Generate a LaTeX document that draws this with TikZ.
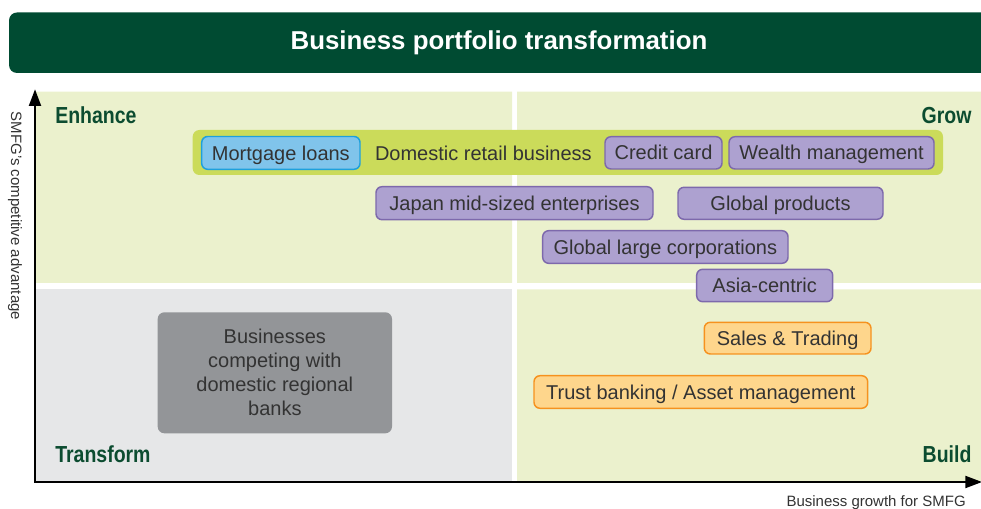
\documentclass[tikz,border=0pt]{standalone}
\usepackage{fontspec}
\setmainfont{Liberation Sans}
\newfontfamily\condfont{Liberation Sans}[FakeStretch=0.84]
\usepackage{xcolor}
\usepackage{tikz}
\usetikzlibrary{arrows.meta,positioning}

\definecolor{bannergreen}{RGB}{0,75,50}
\definecolor{labelgreen}{RGB}{12,76,48}
\definecolor{quadgreen}{RGB}{235,241,205}
\definecolor{quadgray}{RGB}{230,231,232}
\definecolor{bandgreen}{RGB}{203,219,90}
\definecolor{bluefill}{RGB}{128,196,235}
\definecolor{blueline}{RGB}{30,160,220}
\definecolor{purplefill}{RGB}{173,161,208}
\definecolor{purpleline}{RGB}{125,105,172}
\definecolor{orangefill}{RGB}{254,214,140}
\definecolor{orangeline}{RGB}{246,146,30}
\definecolor{grayfill}{RGB}{147,149,152}
\definecolor{boxtext}{RGB}{51,51,51}

\tikzset{
  quadlabel/.style={font=\condfont\bfseries\fontsize{17.4}{20}\selectfont,text=labelgreen,inner sep=0pt},
  axislabel/.style={font=\fontsize{11.25}{13}\selectfont,text=boxtext,inner sep=0pt},
  unittext/.style={font=\fontsize{15}{18}\selectfont,text=boxtext,inner sep=0pt,
    text height=10.7pt,text depth=0pt},
  span/.style 2 args={minimum width=(#1)*0.75pt,minimum height=(#2)*0.75pt},
  unitbox/.style={unittext,draw,rounded corners=4.5pt,line width=1.1pt},
  purplebox/.style={unitbox,fill=purplefill,draw=purpleline},
  orangebox/.style={unitbox,fill=orangefill,draw=orangeline},
  bluebox/.style={unitbox,fill=bluefill,draw=blueline},
  band/.style={fill=bandgreen,rounded corners=5pt,inner sep=0pt},
  graybox/.style={fill=grayfill,rounded corners=5pt,inner sep=0pt,text=boxtext,
    font=\fontsize{15}{18}\selectfont,align=center}
}

\begin{document}
\begin{tikzpicture}[x=0.75pt,y=-0.75pt]
  \useasboundingbox (0,0) rectangle (981,509);
  \clip (0,0) rectangle (981,509);

  \fill[bannergreen,rounded corners=6pt] (9,12.5) rectangle (1000,73);
  \node[font=\bfseries\fontsize{19.4}{23}\selectfont,text=white,anchor=base,inner sep=0pt]
    (title) at (499,50) {Business portfolio transformation};

  \fill[quadgreen] (36,91.7) rectangle (512,283) (517,91.7) rectangle (982,283)
    (517,289.3) rectangle (982,481);
  \fill[quadgray] (36,289.3) rectangle (512,481);

  \coordinate (ytop) at (35,89.3);
  \coordinate (origin) at (35,482);
  \coordinate (xend) at (982,482);
  \draw[line width=1.5pt,{Triangle[length=12.5pt,width=9pt]}-{Triangle[length=12.5pt,width=9pt]}]
    (ytop) -- (origin) -- (xend);

  \node[axislabel,rotate=-90] (ylab) at (15,216) {SMFG's competitive advantage};
  \node[axislabel,anchor=base east] (xlab) at (966,506.5) {Business growth for SMFG};

  \node[quadlabel,anchor=base west] (enhance) at (55,123.3) {Enhance};
  \node[quadlabel,anchor=base east] (grow) at (971.7,123.3) {Grow};
  \node[quadlabel,anchor=base west] (transform) at (55,462.7) {Transform};
  \node[quadlabel,anchor=base east] (build) at (971.7,462.7) {Build};

  \node[band,span={750.3}{45}] (retail) at (567.85,152.5) {};
  \node[bluebox,span={158.3}{32.8}] (mort) at (280.85,152.9) {Mortgage loans};
  \node[unittext,right=10.5pt of mort] (drb) {Domestic retail business};

  \foreach \n/\xa/\ya/\xb/\yb/\t in {
      ccard/605/136.7/722/169/Credit card,
      wealth/729/136.7/934/169/Wealth management,
      japan/376/186.7/653/219.7/Japan mid-sized enterprises,
      gprod/678/187.3/883/219.3/Global products,
      glarge/542.7/230.7/788/263.3/Global large corporations,
      asia/696.7/269.3/832.7/301.7/Asia-centric}
    \node[purplebox,span={\xb-\xa}{\yb-\ya}] (\n) at ({(\xa+\xb)/2},{(\ya+\yb)/2}) {\t};

  \foreach \n/\xa/\ya/\xb/\yb/\t in {
      sales/704.3/322.3/871/354/Sales \& Trading,
      trust/534/375.7/867.7/408.3/{Trust banking / Asset management}}
    \node[orangebox,span={\xb-\xa}{\yb-\ya}] (\n) at ({(\xa+\xb)/2},{(\ya+\yb)/2}) {\t};

  \node[graybox,span={234.3}{121}] (regional) at (274.85,372.8)
    {Businesses\\competing with\\domestic regional\\banks};
\end{tikzpicture}
\end{document}
